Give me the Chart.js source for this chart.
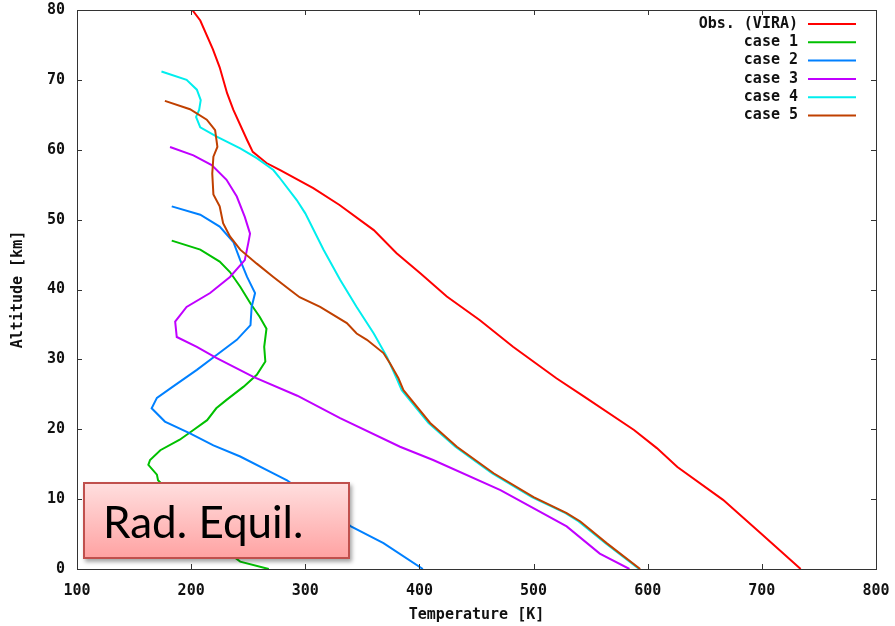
<!DOCTYPE html>
<html>
<head>
<meta charset="utf-8">
<script src="https://cdn.jsdelivr.net/npm/chart.js@4.4.1/dist/chart.umd.min.js"></script>
<style>
  html, body { margin: 0; padding: 0; background: #fff; }
  #wrap { position: relative; width: 895px; height: 626px; }
  #note {
    position: absolute; left: 83px; top: 482px; width: 267px; height: 77px;
    box-sizing: border-box;
    border: 2px solid #c0504d;
    background: linear-gradient(to bottom, #ffdede, #ffa3a3);
    box-shadow: 2px 3px 4px rgba(0,0,0,0.35);
    font-family: Lato, "Open Sans", sans-serif; font-size: 44px; color: #000;
    display: flex; align-items: center; padding-left: 18px;
  }
</style>
</head>
<body>
<div id="wrap">
  <canvas id="profile" width="895" height="626"></canvas>
  <div id="note">Rad. Equil.</div>
</div>
<script>
// altitude [km] / temperature [K] pairs
const viraAlt = [80, 78.5, 74.4, 71.8, 68.1, 65.7, 61.4, 59.7, 58.1, 57.1, 54.5, 52.1, 48.5, 45.2, 42.3, 39.0, 35.6, 31.8, 27.3, 24.7, 19.9, 17.3, 14.6, 9.9, 5.1, 0];
const viraTemp = [201, 208, 219, 225, 231.5, 237, 249, 254, 266, 278, 307, 330, 360, 380, 401, 424, 453, 482, 520, 544, 588, 608, 626, 666, 699, 734];

const case1Alt = [47.0, 45.7, 44.0, 42.5, 40.4, 38.0, 36.1, 34.4, 31.8, 29.7, 27.8, 26.1, 24.2, 23.0, 21.3, 19.9, 18.5, 17.0, 15.6, 14.9, 13.5, 12.7, 1.8, 1.05, 0];
const case1Temp = [183, 208, 225, 234, 243, 252, 260, 266, 264, 265, 257.5, 246, 231, 222, 214, 202, 190, 173, 164, 162.5, 170, 171, 237, 243, 268];

const case2Alt = [51.9, 50.7, 49.0, 46.8, 44.2, 41.8, 39.5, 37.5, 34.9, 32.8, 30.6, 28.5, 26.1, 24.5, 23.0, 21.1, 19.4, 17.7, 16.1, 13.7, 12.7, 6.1, 3.7, 0];
const case2Temp = [183, 208, 225, 237, 243, 249, 256, 253, 252, 240, 222, 205, 184, 170, 165.4, 177, 199, 219.5, 243, 272, 284, 340, 368.5, 403];

const case3Alt = [60.4, 59.2, 57.8, 55.7, 53.3, 50.4, 48.0, 46.6, 44.2, 41.8, 39.5, 37.5, 35.4, 33.2, 31.8, 30.2, 27.5, 24.8, 21.6, 17.5, 15.6, 11.3, 6.1, 2.2, 0];
const case3Temp = [181.5, 202, 218, 231, 240, 247, 251.6, 250, 247, 234, 216.6, 196, 186, 187.4, 205, 222, 254.5, 293, 330.5, 383, 412, 471, 529, 558, 584];

const case4Alt = [71.2, 70.0, 68.6, 67.1, 65.7, 64.7, 63.2, 61.9, 60.2, 58.8, 57.1, 56.1, 52.8, 50.9, 45.7, 41.4, 37.5, 33.7, 30.4, 27.3, 25.6, 20.9, 17.5, 13.7, 10.3, 8.0, 6.8, 3.7, 0];
const case4Temp = [174, 196, 205, 208.4, 207, 204.3, 208, 222, 243, 257.5, 272, 277, 292.5, 300, 316, 330.5, 345, 360, 371.4, 380, 384.5, 408, 431.5, 463.5, 498.5, 528, 539.5, 563, 592.5];

const case5Alt = [67.0, 65.8, 64.3, 62.8, 60.4, 59.0, 56.6, 53.6, 51.9, 49.5, 47.6, 45.7, 43.7, 41.8, 39.9, 38.9, 37.5, 35.2, 33.7, 32.8, 30.9, 29.4, 27.3, 25.6, 20.9, 17.5, 13.7, 10.3, 8.0, 6.8, 3.7, 0];
const case5Temp = [177, 199, 213.7, 221, 223, 219.5, 218.5, 219.5, 225, 228, 234, 243, 257.5, 272, 287, 295, 313, 336.4, 345, 354, 368.5, 374.3, 381.6, 386, 409.4, 432.8, 465, 500, 529, 541, 564, 593.4];

const seriesLabels = ['Obs. (VIRA)', 'case 1', 'case 2', 'case 3', 'case 4', 'case 5'];
const seriesColors = ['#ff0000', '#00c000', '#0080ff', '#c000ff', '#00eeee', '#c04000'];

const xTicks = [100, 200, 300, 400, 500, 600, 700, 800];
const yTicks = [0, 10, 20, 30, 40, 50, 60, 70, 80];

const tickFont = { family: '"DejaVu Sans Mono", monospace', size: 15, weight: 'bold' };

function toPoints(temps, alts) {
  return temps.map((t, i) => ({ x: t, y: alts[i] }));
}

// gnuplot style frame: box + inward ticks on every side
const framePlugin = {
  id: 'frame',
  afterDatasetsDraw(chart) {
    const ctx = chart.ctx;
    const a = chart.chartArea;
    const xs = chart.scales.x, ys = chart.scales.y;
    ctx.save();
    ctx.strokeStyle = '#333';
    ctx.lineWidth = 1;
    ctx.strokeRect(a.left + 0.5, a.top + 0.5, a.right - a.left, a.bottom - a.top);
    ctx.beginPath();
    xTicks.forEach(v => {
      const px = Math.round(xs.getPixelForValue(v)) + 0.5;
      ctx.moveTo(px, a.bottom); ctx.lineTo(px, a.bottom - 5);
      ctx.moveTo(px, a.top); ctx.lineTo(px, a.top + 5);
    });
    yTicks.forEach(v => {
      const py = Math.round(ys.getPixelForValue(v)) + 0.5;
      ctx.moveTo(a.left, py); ctx.lineTo(a.left + 5, py);
      ctx.moveTo(a.right, py); ctx.lineTo(a.right - 5, py);
    });
    ctx.stroke();
    ctx.restore();
  },
  afterDraw(chart) {
    // legend, top right inside the frame
    const ctx = chart.ctx;
    const a = chart.chartArea;
    ctx.save();
    ctx.font = 'bold 15px "DejaVu Sans Mono", monospace';
    ctx.textAlign = 'right';
    ctx.textBaseline = 'middle';
    chart.data.datasets.forEach((ds, i) => {
      const y = a.top + 14 + i * 18.3;
      ctx.fillStyle = '#111';
      ctx.fillText(ds.label, a.right - 78, y);
      ctx.strokeStyle = ds.borderColor;
      ctx.lineWidth = 2;
      ctx.beginPath();
      ctx.moveTo(a.right - 68, y);
      ctx.lineTo(a.right - 20, y);
      ctx.stroke();
    });
    ctx.restore();
  }
};

document.addEventListener('DOMContentLoaded', function () {
  const allTemps = [viraTemp, case1Temp, case2Temp, case3Temp, case4Temp, case5Temp];
  const allAlts = [viraAlt, case1Alt, case2Alt, case3Alt, case4Alt, case5Alt];

  const datasets = seriesLabels.map((label, i) => ({
    label: label,
    data: toPoints(allTemps[i], allAlts[i]),
    borderColor: seriesColors[i],
    backgroundColor: seriesColors[i],
    borderWidth: 2,
    showLine: true,
    pointRadius: 0,
    tension: 0,
    order: seriesLabels.length - i
  }));

  const ctx = document.getElementById('profile').getContext('2d');
  const chart = new Chart(ctx, {
    type: 'scatter',
    data: { datasets: datasets },
    options: {
      responsive: false,
      animation: false,
      layout: { padding: { top: 10, right: 19, left: 0, bottom: 0 } },
      plugins: { legend: { display: false }, tooltip: { enabled: false } },
      scales: {
        x: {
          type: 'linear', min: 100, max: 800,
          afterBuildTicks: s => { s.ticks = xTicks.map(v => ({ value: v })); },
          afterFit: s => { s.height = 57; s.paddingLeft = 0; s.paddingRight = 0; },
          grid: { display: false, drawTicks: false },
          border: { display: false },
          ticks: { font: tickFont, color: '#111', padding: 13, maxRotation: 0 },
          title: { display: true, text: 'Temperature [K]', font: tickFont, color: '#111', padding: { top: 0, bottom: 2 } }
        },
        y: {
          type: 'linear', min: 0, max: 80,
          afterBuildTicks: s => { s.ticks = yTicks.map(v => ({ value: v })); },
          afterFit: s => { s.width = 77; s.paddingTop = 0; s.paddingBottom = 0; },
          grid: { display: false, drawTicks: false },
          border: { display: false },
          ticks: { font: tickFont, color: '#111', padding: 12 },
          title: { display: true, text: 'Altitude [km]', font: tickFont, color: '#111', padding: { top: 9, bottom: 0 } }
        }
      }
    },
    plugins: [framePlugin]
  });
});
</script>
</body>
</html>
